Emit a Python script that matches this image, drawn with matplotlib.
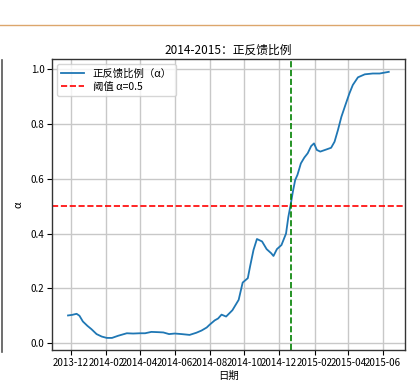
import matplotlib
matplotlib.use("Agg")
import matplotlib.pyplot as plt
import matplotlib.dates as mdates
from matplotlib.lines import Line2D
import pandas as pd

plt.rcParams['font.family'] = ['Noto Sans CJK SC', 'DejaVu Sans']
plt.rcParams['axes.unicode_minus'] = False

dates = ["2013-11-26", "2013-12-03", "2013-12-11", "2013-12-16", "2013-12-22", "2013-12-30",
         "2014-01-06", "2014-01-15", "2014-01-24", "2014-02-02", "2014-02-11", "2014-02-22",
         "2014-03-09", "2014-03-20", "2014-04-01", "2014-04-10", "2014-04-21", "2014-05-03",
         "2014-05-12", "2014-05-22", "2014-06-01", "2014-06-13", "2014-06-27", "2014-07-09",
         "2014-07-18", "2014-07-27", "2014-08-01", "2014-08-10", "2014-08-16", "2014-08-22",
         "2014-08-30", "2014-09-10", "2014-09-21", "2014-09-28", "2014-10-07", "2014-10-11",
         "2014-10-17", "2014-10-23", "2014-11-01", "2014-11-09", "2014-11-17", "2014-11-21",
         "2014-11-27", "2014-12-05", "2014-12-13", "2014-12-17", "2014-12-21", "2014-12-25",
         "2014-12-29", "2015-01-02", "2015-01-08", "2015-01-14", "2015-01-20", "2015-01-26",
         "2015-01-31", "2015-02-05", "2015-02-11", "2015-02-22", "2015-03-02", "2015-03-08",
         "2015-03-14", "2015-03-20", "2015-03-27", "2015-04-03", "2015-04-09", "2015-04-18",
         "2015-04-30", "2015-05-14", "2015-05-26", "2015-06-11"]
alpha_vals = [0.101, 0.103, 0.107, 0.100, 0.079, 0.063,
              0.051, 0.033, 0.024, 0.019, 0.019, 0.027,
              0.036, 0.035, 0.036, 0.036, 0.041, 0.040,
              0.039, 0.033, 0.035, 0.033, 0.030, 0.038,
              0.046, 0.057, 0.067, 0.083, 0.090, 0.104,
              0.097, 0.120, 0.158, 0.221, 0.237, 0.280,
              0.340, 0.380, 0.371, 0.343, 0.328, 0.318,
              0.343, 0.358, 0.400, 0.460, 0.504, 0.553,
              0.595, 0.614, 0.656, 0.677, 0.693, 0.719,
              0.729, 0.705, 0.699, 0.707, 0.713, 0.735,
              0.778, 0.826, 0.869, 0.911, 0.942, 0.970,
              0.981, 0.984, 0.984, 0.990]
threshold = 0.5
cross_date = "2014-12-21"

title = "2014-2015：正反馈比例"
series_label = "正反馈比例（α）"
threshold_label = "阈值 α=0.5"
xlabel = "日期"
ylabel = "α"

fig = plt.figure(figsize=(4.2, 3.88), dpi=100)
ax = fig.add_axes([0.1238, 0.098, 0.840, 0.750])

x = pd.to_datetime(dates)
ax.plot(x, alpha_vals, color='#1f77b4', lw=1.3, label=series_label)
ax.axhline(threshold, color='red', ls='--', lw=1.2, label=threshold_label)
ax.axvline(pd.to_datetime(cross_date), color='green', ls='--', lw=1.2)

ax.set_ylim(-0.025, 1.037)
ax.xaxis.set_major_locator(mdates.MonthLocator(bymonth=[2, 4, 6, 8, 10, 12]))
ax.xaxis.set_major_formatter(mdates.DateFormatter('%Y-%m'))
ax.grid(True, color='#c8c8c8', lw=1.0)
ax.tick_params(labelsize=7, length=3.5, width=0.8, pad=2)
for s in ax.spines.values():
    s.set_color('#333333')
    s.set_linewidth(1.0)
ax.set_title(title, fontsize=8.5, pad=4)
ax.set_xlabel(xlabel, fontsize=7.5, labelpad=2)
ax.set_ylabel(ylabel, fontsize=7.5, labelpad=5)
ax.legend(loc='upper left', fontsize=7.5, framealpha=0.8, handlelength=2.2,
          borderpad=0.4, labelspacing=0.3)

# decorations from the surrounding page / neighbouring panel
fig.add_artist(Line2D([0, 1], [1 - 25 / 388, 1 - 25 / 388], transform=fig.transFigure,
                      color='#dca66c', lw=1.0))
fig.add_artist(Line2D([2 / 420, 2 / 420], [1 - 60 / 388, 1 - 352 / 388],
                      transform=fig.transFigure, color='#555555', lw=1.2))

fig.savefig("out.png", dpi=100)
